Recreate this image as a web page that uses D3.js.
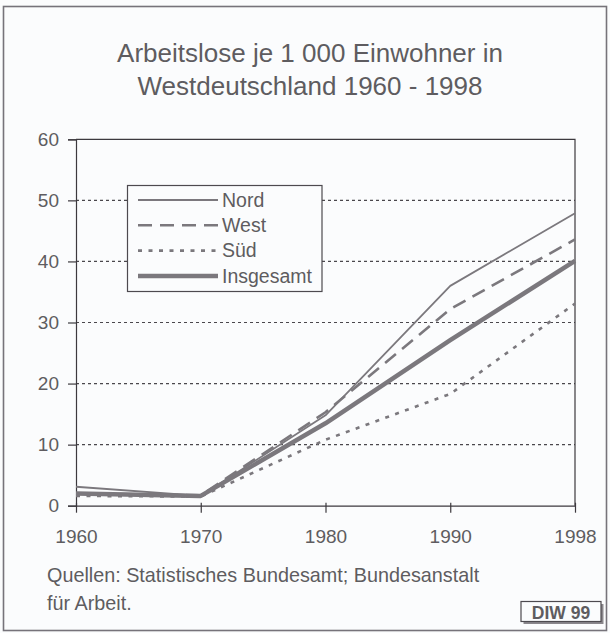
<!DOCTYPE html>
<html>
<head>
<meta charset="utf-8">
<script src="https://cdn.jsdelivr.net/npm/d3@7"></script>
<style>
  html, body { margin: 0; padding: 0; background: #fbfcfd; }
  svg { display: block; }
  text { font-family: "Liberation Sans", Arial, sans-serif; fill: #5e5c60; }
</style>
</head>
<body>
<svg id="chart" width="610" height="633"></svg>
<script>
// ---- data ----
const titleLines = ["Arbeitslose je 1 000 Einwohner in", "Westdeutschland 1960 - 1998"];
const categories = ["1960", "1970", "1980", "1990", "1998"];
const nord = [3.1, 1.6, 14.8, 36.0, 47.9];
const west = [2.0, 1.7, 15.3, 32.2, 43.6];
const sued = [1.6, 1.5, 10.8, 18.3, 33.1];
const insgesamt = [2.0, 1.6, 13.5, 27.1, 40.1];
const seriesNames = ["Nord", "West", "Süd", "Insgesamt"];
const yTicks = [0, 10, 20, 30, 40, 50, 60];
const sourceLines = ["Quellen: Statistisches Bundesamt; Bundesanstalt", "für Arbeit."];
const badge = "DIW 99";

// ---- styles ----
const styles = {
  "Nord":      { width: 1.8, dash: null },
  "West":      { width: 2.6, dash: "14,8" },
  "Süd":       { width: 2.6, dash: "4,6.5" },
  "Insgesamt": { width: 4.5, dash: null }
};
const lineColor = "#7b787d";

const svg = d3.select("#chart");

// outer frame
svg.append("rect")
  .attr("x", 3.5).attr("y", 6.5).attr("width", 603).attr("height", 624)
  .attr("fill", "none").attr("stroke", "#76737a").attr("stroke-width", 1.6);

// title
svg.append("g").selectAll("text").data(titleLines).join("text")
  .attr("x", 310).attr("y", (d, i) => 62 + i * 33)
  .attr("text-anchor", "middle")
  .style("font-size", "26px")
  .text(d => d);

// scales
const x = d3.scalePoint().domain(categories).range([76, 575]);
const y = d3.scaleLinear().domain([0, 60]).range([505.7, 139.3]);

// gridlines (dotted) 10..50
svg.append("g").selectAll("line").data(yTicks.filter(v => v > 0 && v < 60)).join("line")
  .attr("x1", 76).attr("x2", 575)
  .attr("y1", d => y(d)).attr("y2", d => y(d))
  .attr("stroke", "#4a474c").attr("stroke-width", 1.2)
  .attr("stroke-dasharray", "3,3");

// plot border top & right
svg.append("path")
  .attr("d", `M${x("1960")},${y(60)}H${x("1998")}V${y(0)}`)
  .attr("fill", "none").attr("stroke", "#3c393e").attr("stroke-width", 1.2);

// y axis
const yAxis = svg.append("g").attr("transform", `translate(${x("1960")},0)`)
  .call(d3.axisLeft(y).tickValues(yTicks).tickSize(8).tickPadding(9));
yAxis.select(".domain").attr("stroke", "#3c393e").attr("stroke-width", 1.2);
yAxis.selectAll(".tick line").attr("stroke", "#3c393e").attr("stroke-width", 1.2);
yAxis.selectAll(".tick text").style("font-size", "19px").attr("fill", "#5e5c60")
  .style("font-family", "'Liberation Sans', Arial, sans-serif");

// x axis
const xAxis = svg.append("g").attr("transform", `translate(0,${y(0)})`)
  .call(d3.axisBottom(x).tickSizeOuter(0).tickSizeInner(7).tickPadding(17));
xAxis.select(".domain").attr("stroke", "#3c393e").attr("stroke-width", 1.2);
xAxis.selectAll(".tick line").attr("stroke", "#3c393e").attr("stroke-width", 1.2).attr("y1", -3);
xAxis.selectAll(".tick text").style("font-size", "19px").attr("fill", "#5e5c60")
  .style("font-family", "'Liberation Sans', Arial, sans-serif");

// series lines
const seriesData = [nord, west, sued, insgesamt];
const lineGen = d3.line().x((d, i) => x(categories[i])).y(d => y(d));
svg.append("g").selectAll("path").data(seriesData).join("path")
  .attr("d", d => lineGen(d))
  .attr("fill", "none")
  .attr("stroke", lineColor)
  .attr("stroke-width", (d, i) => styles[seriesNames[i]].width)
  .attr("stroke-dasharray", (d, i) => styles[seriesNames[i]].dash)
  .attr("stroke-linejoin", "round");

// legend
const lg = svg.append("g");
lg.append("rect")
  .attr("x", 127.5).attr("y", 185.5).attr("width", 194.5).attr("height", 106)
  .attr("fill", "#fbfcfd").attr("stroke", "#4d4a4f").attr("stroke-width", 1.2);
const items = lg.selectAll("g.item").data(seriesNames).join("g")
  .attr("class", "item")
  .attr("transform", (d, i) => `translate(0,${200 + i * 25.3})`);
items.append("line")
  .attr("x1", 138).attr("x2", 218).attr("y1", 0).attr("y2", 0)
  .attr("stroke", lineColor)
  .attr("stroke-width", d => styles[d].width)
  .attr("stroke-dasharray", d => styles[d].dash);
items.append("text")
  .attr("x", 222).attr("y", 0).attr("dy", "0.35em")
  .style("font-size", "19.5px")
  .text(d => d);

// source
svg.append("g").selectAll("text").data(sourceLines).join("text")
  .attr("x", 47).attr("y", (d, i) => 582 + i * 27.5)
  .style("font-size", "19.8px")
  .text(d => d);

// badge
const bg = svg.append("g");
bg.append("rect").attr("x", 523.5).attr("y", 604).attr("width", 80).attr("height", 20)
  .attr("fill", "#8a878c");
bg.append("rect").attr("x", 521).attr("y", 601.5).attr("width", 80).attr("height", 20)
  .attr("fill", "#fbfcfd").attr("stroke", "#4d4a4f").attr("stroke-width", 1.2);
bg.append("text").attr("x", 561).attr("y", 618.5).attr("text-anchor", "middle")
  .style("font-size", "17.5px").style("font-weight", "bold")
  .text(badge);
</script>
</body>
</html>
